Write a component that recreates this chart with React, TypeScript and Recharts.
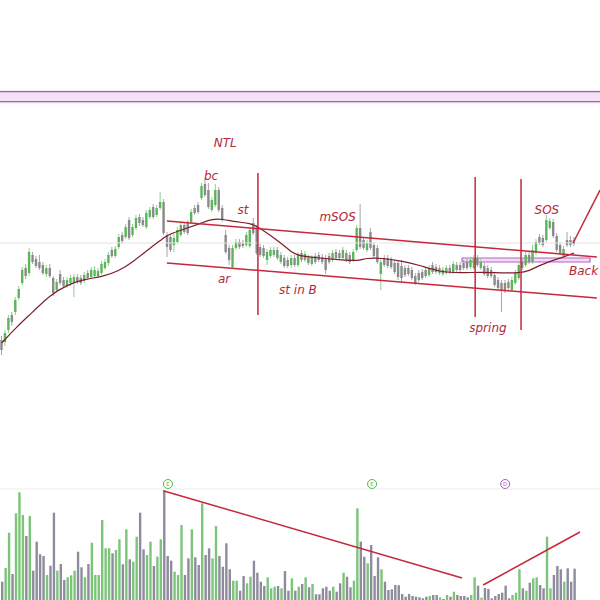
import {
  ComposedChart,
  Bar,
  Line,
  XAxis,
  YAxis,
  ReferenceLine,
  ReferenceArea,
  ReferenceDot,
  Cell,
} from 'recharts'

// daily candles, oldest first
const opens = [
  13.0, 12.8, 14.0, 15.5, 15.8, 17.2, 18.7, 20.2, 19.7, 21.5,
  21.1, 20.8, 20.5, 19.6, 20.2, 19.2, 18.0, 19.6, 19.0, 18.4,
  18.7, 18.8, 19.3, 19.2, 18.9, 19.7, 19.3, 19.4, 19.4, 19.7,
  20.2, 20.7, 22.0, 21.4, 22.3, 23.5, 23.3, 25.0, 23.5, 24.2,
  25.3, 25.0, 24.3, 25.3, 26.3, 25.5, 26.2, 26.8, 23.5, 23.3,
  22.5, 22.8, 23.5, 24.5, 24.7, 24.8, 26.2, 26.5, 27.2, 28.6,
  28.0, 26.0, 26.5, 28.0, 26.2, 23.5, 22.2, 20.3, 22.2, 22.8,
  22.7, 22.5, 22.4, 24.7, 24.2, 22.3, 22.2, 21.0, 21.4, 21.5,
  22.0, 20.8, 21.2, 21.0, 20.5, 21.2, 20.5, 21.7, 21.0, 21.2,
  20.6, 21.4, 21.5, 21.3, 21.2, 21.4, 21.0, 21.8, 21.7, 21.2,
  21.7, 21.5, 21.0, 22.0, 24.2, 23.0, 22.0, 23.8, 22.5, 22.2,
  19.6, 21.2, 21.2, 21.0, 20.7, 20.7, 20.4, 20.2, 20.2, 20.0,
  19.4, 19.7, 19.8, 20.0, 19.5, 20.5, 20.3, 19.7, 20.0, 19.7,
  20.2, 19.8, 20.5, 20.5, 20.7, 20.8, 20.3, 20.2, 21.2, 20.2,
  20.4, 20.2, 20.0, 19.5, 19.0, 18.7, 18.7, 18.8, 18.0, 18.7,
  19.2, 20.8, 20.5, 21.5, 20.8, 21.7, 23.3, 23.2, 23.0, 24.2,
  24.8, 23.4, 22.5, 21.4, 23.0, 23.0, 23.0,
]
const highs = [
  13.4, 14.0, 15.5, 15.8, 17.3, 18.4, 20.3, 20.6, 22.2, 21.8,
  21.4, 21.5, 20.8, 20.5, 20.6, 19.4, 19.1, 20.0, 19.3, 19.3,
  19.5, 19.6, 19.6, 19.5, 19.8, 20.0, 20.3, 20.4, 20.2, 20.9,
  21.1, 21.8, 22.3, 22.4, 23.6, 23.8, 24.6, 25.3, 24.6, 25.5,
  25.6, 25.3, 26.0, 26.3, 26.6, 26.5, 27.8, 27.1, 23.8, 23.6,
  23.8, 24.3, 24.8, 24.8, 25.0, 26.1, 26.5, 26.8, 28.7, 29.0,
  28.7, 27.3, 28.6, 28.3, 26.5, 24.0, 22.5, 22.5, 23.1, 23.1,
  23.0, 23.8, 24.3, 25.2, 24.5, 22.6, 22.5, 22.1, 22.3, 22.3,
  22.3, 21.8, 21.5, 21.3, 21.5, 21.5, 21.8, 22.0, 21.9, 21.5,
  21.5, 21.7, 21.8, 21.6, 21.5, 21.7, 22.0, 22.1, 22.0, 22.3,
  22.0, 21.8, 22.1, 24.5, 26.6, 23.3, 23.0, 24.2, 22.8, 22.5,
  21.2, 21.5, 21.5, 21.3, 21.0, 21.0, 21.0, 20.5, 20.5, 20.3,
  19.7, 20.0, 20.1, 20.3, 20.5, 20.8, 20.6, 20.5, 20.3, 20.5,
  20.5, 20.9, 20.8, 20.8, 21.0, 21.1, 21.3, 21.5, 21.5, 21.1,
  20.7, 20.5, 20.3, 19.8, 19.3, 19.0, 19.0, 19.1, 19.3, 20.0,
  20.8, 21.1, 21.8, 21.8, 22.5, 23.1, 23.6, 23.5, 25.5, 25.2,
  25.1, 23.7, 22.8, 22.4, 23.8, 23.4, 23.3,
]
const lows = [
  11.5, 12.4, 13.7, 14.4, 15.5, 17.0, 18.5, 19.1, 19.4, 20.6,
  20.2, 20.0, 19.5, 19.3, 19.2, 17.4, 17.8, 18.5, 18.2, 18.2,
  18.4, 17.3, 18.6, 18.5, 18.7, 19.0, 19.1, 19.2, 19.2, 19.5,
  20.0, 20.4, 21.2, 21.2, 22.1, 22.6, 23.1, 23.0, 23.3, 24.0,
  24.4, 24.3, 24.1, 25.1, 25.1, 25.3, 26.0, 23.5, 21.3, 21.8,
  21.8, 22.6, 23.3, 23.6, 23.5, 24.6, 25.5, 25.6, 27.0, 27.3,
  26.1, 25.8, 26.3, 25.8, 24.8, 21.6, 20.5, 20.1, 22.0, 22.1,
  22.2, 22.3, 22.2, 23.5, 21.5, 21.3, 21.2, 20.5, 21.2, 21.3,
  21.0, 20.6, 20.2, 20.2, 20.2, 20.3, 20.3, 20.8, 20.8, 20.5,
  20.4, 20.6, 20.8, 20.6, 19.6, 20.6, 20.8, 21.0, 21.0, 21.0,
  20.8, 20.6, 20.8, 21.8, 22.1, 22.0, 21.8, 22.0, 21.2, 20.6,
  18.0, 20.3, 20.2, 20.1, 19.6, 19.0, 18.7, 19.3, 19.4, 19.0,
  18.5, 18.8, 19.0, 19.2, 19.3, 19.6, 19.6, 19.5, 19.4, 19.5,
  19.6, 19.6, 19.8, 19.8, 20.0, 20.0, 20.1, 20.0, 20.3, 20.0,
  19.4, 19.2, 19.2, 18.3, 18.0, 15.8, 17.7, 18.0, 17.8, 18.5,
  19.0, 20.0, 20.3, 20.6, 20.6, 21.5, 22.5, 22.3, 22.8, 24.0,
  23.2, 21.8, 21.5, 21.2, 22.3, 22.3, 22.4,
]
const closes = [
  12.0, 13.7, 15.2, 14.8, 17.0, 18.1, 20.0, 19.4, 21.8, 20.8,
  20.4, 20.2, 19.7, 20.2, 19.4, 17.7, 18.8, 18.7, 18.4, 19.0,
  19.2, 19.3, 18.8, 18.7, 19.5, 19.2, 20.0, 20.0, 19.9, 20.6,
  20.8, 21.5, 21.4, 22.1, 23.3, 22.9, 24.3, 23.2, 24.3, 25.2,
  24.7, 24.5, 25.7, 26.0, 25.3, 26.2, 26.8, 23.7, 22.3, 22.0,
  23.2, 24.0, 24.5, 23.8, 23.7, 25.8, 25.7, 25.8, 28.4, 27.5,
  26.3, 27.0, 28.0, 26.0, 25.0, 21.8, 21.0, 22.2, 22.8, 22.3,
  22.4, 23.5, 24.0, 23.7, 21.7, 21.5, 21.4, 21.8, 22.0, 22.0,
  21.2, 21.5, 20.4, 20.4, 21.2, 20.5, 21.5, 21.0, 21.6, 20.7,
  21.2, 20.8, 21.0, 20.8, 20.0, 20.8, 21.7, 21.2, 21.2, 22.0,
  21.0, 20.8, 21.8, 24.2, 22.3, 22.2, 22.7, 22.2, 21.4, 20.8,
  20.8, 20.5, 20.4, 20.3, 19.8, 19.3, 19.2, 19.5, 19.6, 19.2,
  18.7, 19.0, 19.2, 19.4, 20.2, 19.8, 19.8, 20.2, 19.6, 20.2,
  19.8, 20.6, 20.0, 20.0, 20.2, 20.2, 21.0, 21.2, 20.5, 20.8,
  19.6, 19.4, 19.4, 18.5, 18.2, 18.0, 18.0, 18.2, 19.0, 19.7,
  20.5, 20.2, 21.5, 20.8, 22.0, 22.8, 22.7, 22.5, 25.0, 24.9,
  23.4, 22.0, 21.7, 22.1, 22.5, 22.5, 22.6,
]
const volumes = [
  183, 320, 673, 260, 867, 1077, 850, 640, 840, 293,
  583, 457, 440, 250, 343, 873, 293, 360, 200, 227,
  247, 293, 483, 327, 227, 360, 573, 250, 250, 800,
  517, 517, 467, 500, 607, 357, 707, 407, 383, 633,
  873, 507, 450, 583, 340, 433, 607, 1093, 440, 393,
  283, 250, 750, 250, 417, 707, 427, 350, 967, 450,
  517, 417, 740, 440, 333, 567, 307, 193, 193, 93,
  240, 167, 233, 393, 273, 183, 140, 227, 117, 133,
  140, 117, 290, 93, 217, 93, 133, 160, 227, 127,
  160, 57, 57, 117, 133, 93, 133, 83, 167, 273,
  233, 127, 193, 917, 583, 433, 367, 550, 240, 427,
  307, 183, 100, 107, 150, 147, 60, 33, 60, 40,
  33, 27, 17, 33, 40, 50, 50, 27, 10, 50,
  33, 83, 50, 40, 40, 27, 50, 227, 143, 23,
  120, 110, 17, 40, 60, 73, 143, 17, 50, 73,
  307, 117, 93, 173, 217, 227, 150, 117, 633, 117,
  250, 340, 307, 183, 317, 183, 313,
]

// moving average, read at a few candles
const maIdx = [0, 4, 9, 14, 19, 24, 29, 34, 38, 43, 47, 48, 53, 58, 61, 64, 68, 72, 75, 81, 84, 86, 92, 99, 103, 106, 110, 116, 121, 127, 133, 139, 145, 150, 153, 156, 162, 166]
const maVal = [12.7, 14.2, 15.8, 17.5, 18.5, 19.1, 19.3, 19.9, 20.8, 22.2, 23.2, 23.5, 24.1, 24.7, 25.1, 25.1, 24.8, 24.7, 24.2, 22.7, 21.8, 21.4, 21.2, 21.0, 20.9, 21.2, 21.2, 20.9, 20.5, 19.8, 19.7, 19.8, 19.7, 19.7, 19.9, 20.5, 21.2, 21.7]

// drawn annotations, [index, price]
const trendLines = [
  [[47.9, 24.9], [172.6, 21.3]],
  [[47.9, 20.7], [172.6, 17.2]],
  [[165.7, 22.7], [173.5, 28.0]],
]
const phaseLines = [
  [74.3, 29.7, 15.5],
  [137.3, 29.3, 15.3],
  [150.6, 29.1, 14.0],
]
const notes = [
  { text: 'NTL', i: 64.8, p: 32.7 },
  { text: 'bc', i: 60.7, p: 29.4 },
  { text: 'st', i: 70.0, p: 26.0 },
  { text: 'mSOS', i: 97.4, p: 25.3 },
  { text: 'ar', i: 64.5, p: 19.1 },
  { text: 'st in B', i: 85.9, p: 18.0 },
  { text: 'spring', i: 141.0, p: 14.2 },
  { text: 'SOS', i: 158.1, p: 26.0 },
]
const backUp = { text: 'Back up', i: 164.5, p: 19.9 }
const lastPrice = 22.7
const zoneLow = 36.83
const zoneHigh = 37.83
const boxRange = { i1: 133.5, i2: 170.6, p1: 20.8, p2: 21.2 }

const volLines = [
  [[46.8, 1093], [133.5, 220]],
  [[139.6, 150], [167.7, 680]],
]
const events = [
  { i: 48.2, kind: 'E' },
  { i: 107.4, kind: 'E' },
  { i: 146.0, kind: 'D' },
]

const SLOTS: [number, number] = [-0.5, 173.5]
const RED = '#c4283a'
const LABEL = '#b3283a'
const UP = '#5bb55b'
const DOWN = '#8a8a8a'
const VOL_UP = '#7cc47a'
const VOL_DOWN = '#8e8c9c'

const rows = opens.map((o, i) => ({
  i,
  o,
  h: highs[i],
  l: lows[i],
  c: closes[i],
  range: [lows[i], highs[i]],
  vol: volumes[i],
}))
const maRows = maIdx.map((i, n) => ({ i, ma: maVal[n] }))

function Candle(props: any) {
  const { x, y, width, height, payload } = props
  if (!payload || y == null || height == null) return null
  const { o, h, l, c } = payload
  const top = Math.min(y, y + height)
  const bot = Math.max(y, y + height)
  const k = h === l ? 0 : (bot - top) / (h - l)
  const yO = top + (h - o) * k
  const yC = top + (h - c) * k
  const up = c >= o
  const cx = x + width / 2
  const bw = 2.4
  return (
    <g>
      <line x1={cx} x2={cx} y1={top} y2={bot} stroke={up ? '#8fcf8f' : '#a6a6a6'} strokeWidth={1} />
      <rect
        x={cx - bw / 2}
        y={Math.min(yO, yC)}
        width={bw}
        height={Math.max(1, Math.abs(yC - yO))}
        fill={up ? UP : DOWN}
      />
    </g>
  )
}

function noteShape(text: string, anchor: 'middle' | 'start') {
  return (p: any) => (
    <text
      x={p.cx}
      y={p.cy}
      textAnchor={anchor}
      dominantBaseline="central"
      fill={LABEL}
      fontSize={12}
      fontStyle="italic"
      fontFamily="DejaVu Sans, Verdana, sans-serif"
    >
      {text}
    </text>
  )
}

function eventShape(kind: string) {
  const color = kind === 'D' ? '#a55db3' : '#4cbb4c'
  return (p: any) => (
    <g>
      <circle cx={p.cx} cy={p.cy} r={4.5} fill="#fff" stroke={color} strokeWidth={1} />
      <text
        x={p.cx}
        y={p.cy}
        textAnchor="middle"
        dominantBaseline="central"
        fontSize={5.5}
        fontFamily="DejaVu Sans, sans-serif"
        fill={color}
      >
        {kind}
      </text>
    </g>
  )
}

export default function App() {
  return (
    <div style={{ position: 'fixed', left: 0, top: 0, width: 600, height: 600, background: '#fff', overflow: 'hidden' }}>
      <div style={{ position: 'absolute', left: 0, top: 0 }}>
        <ComposedChart width={600} height={470} data={rows} margin={{ top: 0, right: 0, bottom: 0, left: 0 }}>
          <XAxis dataKey="i" type="number" domain={SLOTS} hide />
          <YAxis domain={[0, 47]} hide />
          <ReferenceArea y1={zoneLow - 0.25} y2={zoneHigh + 0.25} fill="#fcf0fc" fillOpacity={1} stroke="none" ifOverflow="visible" />
          <ReferenceArea y1={zoneLow} y2={zoneHigh} fill="#f5e2f6" fillOpacity={1} stroke="none" ifOverflow="visible" />
          <ReferenceLine y={zoneHigh} stroke="#94679b" strokeWidth={1.2} />
          <ReferenceLine y={zoneLow} stroke="#94679b" strokeWidth={1.2} />
          <ReferenceLine y={lastPrice} stroke="#e4e4e4" strokeWidth={1} />
          <Bar dataKey="range" shape={<Candle />} barSize={3} isAnimationActive={false} />
          <Line
            data={maRows}
            dataKey="ma"
            type="basis"
            stroke="#7e1e2c"
            strokeWidth={1.2}
            dot={false}
            activeDot={false}
            isAnimationActive={false}
          />
          <ReferenceArea
            x1={boxRange.i1}
            x2={boxRange.i2}
            y1={boxRange.p1}
            y2={boxRange.p2}
            fill="#eed2f4"
            fillOpacity={0.8}
            stroke="#b565c8"
            strokeWidth={1.2}
            ifOverflow="visible"
          />
          {trendLines.map((s, n) => (
            <ReferenceLine
              key={'t' + n}
              segment={[{ x: s[0][0], y: s[0][1] }, { x: s[1][0], y: s[1][1] }]}
              stroke={RED}
              strokeWidth={1.5}
              ifOverflow="visible"
            />
          ))}
          {phaseLines.map((v, n) => (
            <ReferenceLine
              key={'v' + n}
              segment={[{ x: v[0], y: v[1] }, { x: v[0], y: v[2] }]}
              stroke={RED}
              strokeWidth={1.5}
              ifOverflow="visible"
            />
          ))}
          {notes.map((t) => (
            <ReferenceDot key={t.text} x={t.i} y={t.p} r={0} shape={noteShape(t.text, 'middle')} ifOverflow="visible" />
          ))}
          <ReferenceDot x={backUp.i} y={backUp.p} r={0} shape={noteShape(backUp.text, 'start')} ifOverflow="visible" />
        </ComposedChart>
      </div>
      <div style={{ position: 'absolute', left: 0, top: 470 }}>
        <ComposedChart width={600} height={130} data={rows} margin={{ top: 0, right: 0, bottom: 0, left: 0 }}>
          <XAxis dataKey="i" type="number" domain={SLOTS} hide />
          <YAxis domain={[0, 1300]} hide />
          <ReferenceLine y={1110} stroke="#ececec" strokeWidth={1} />
          <Bar dataKey="vol" barSize={2.4} isAnimationActive={false}>
            {rows.map((r) => (
              <Cell key={r.i} fill={r.c >= r.o ? VOL_UP : VOL_DOWN} />
            ))}
          </Bar>
          {volLines.map((s, n) => (
            <ReferenceLine
              key={'vl' + n}
              segment={[{ x: s[0][0], y: s[0][1] }, { x: s[1][0], y: s[1][1] }]}
              stroke={RED}
              strokeWidth={1.5}
              ifOverflow="visible"
            />
          ))}
          {events.map((e, n) => (
            <ReferenceDot key={'e' + n} x={e.i} y={1160} r={4.5} shape={eventShape(e.kind)} ifOverflow="visible" />
          ))}
        </ComposedChart>
      </div>
    </div>
  )
}
